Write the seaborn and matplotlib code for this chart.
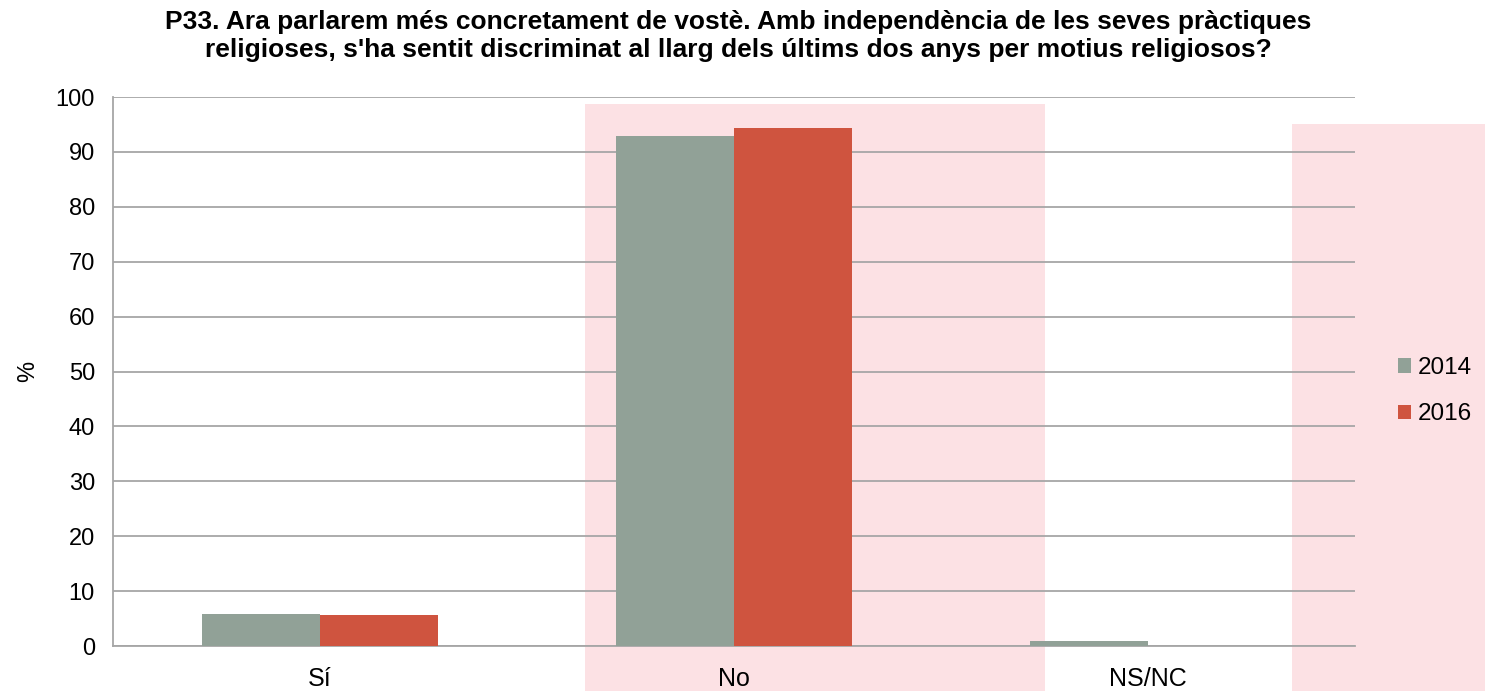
import numpy as np
import pandas as pd
import matplotlib
matplotlib.use("Agg")
import matplotlib.pyplot as plt
import seaborn as sns
from matplotlib.patches import Rectangle

#Data.
categories = ["Sí", "No", "NS/NC"]
years = ["2014", "2016"]
values_2014 = [5.8, 92.9, 1.0]
values_2016 = [5.6, 94.3, 0.0]
yticks = list(range(0, 101, 10))

colors = {"2014": "#91a197", "2016": "#cf543f"}
grid_color = "#a6a6a6"

df = pd.DataFrame({
    "categoria": categories * 2,
    "any": ["2014"] * 3 + ["2016"] * 3,
    "valor": values_2014 + values_2016,
})

sns.set_style("white")
plt.rcParams["font.family"] = ["Liberation Sans", "DejaVu Sans"]
plt.rcParams["text.color"] = "black"
plt.rcParams["xtick.color"] = "black"
plt.rcParams["ytick.color"] = "black"
plt.rcParams["axes.labelcolor"] = "black"

fig = plt.figure(figsize=(14.85, 6.91), dpi=100)

#Faint pink watermark bands behind the chart.
bg = fig.add_axes([0, 0, 1, 1], zorder=-1)
bg.set_xlim(0, 1)
bg.set_ylim(0, 1)
bg.axis("off")
for x0, y0, w, h in [(0.394, 0.0, 0.31, 0.85), (0.87, 0.0, 0.13, 0.82)]:
    bg.add_patch(Rectangle((x0, y0), w, h, facecolor="#fce1e4", edgecolor="none"))

ax = fig.add_axes([0.0761, 0.065, 0.8364, 0.7946], zorder=1)
ax.set_facecolor("none")

sns.barplot(data=df, x="categoria", y="valor", hue="any", order=categories,
            hue_order=years, palette=colors, width=0.57, saturation=1,
            linewidth=0, ax=ax, zorder=3)

ax.set_ylim(0, 100)
ax.set_xlim(-0.5, 2.5)
ax.set_yticks(yticks)
ax.yaxis.grid(True, color=grid_color, linewidth=1.3, zorder=0)
ax.set_axisbelow(True)

#Category boundary ticks on the x axis.
ax.set_xticks([0, 1, 2])
ax.set_xticklabels(categories)
ax.set_xticks([-0.5, 0.5, 1.5, 2.5], minor=True)
ax.tick_params(axis="x", which="major", length=0, labelsize=18, pad=15)
ax.tick_params(axis="x", which="minor", length=7, width=1.3, color=grid_color)
ax.tick_params(axis="y", length=7, width=1.3, color=grid_color, labelsize=17, pad=6)

for side in ["top", "right"]:
    ax.spines[side].set_visible(False)
for side in ["left", "bottom"]:
    ax.spines[side].set_color(grid_color)
    ax.spines[side].set_linewidth(1.3)

ax.set_xlabel("")
ax.set_ylabel("%", fontsize=17, labelpad=12)

ax.legend(loc="center left", bbox_to_anchor=(1.017, 0.464), frameon=False,
          fontsize=17.5, handlelength=0.55, handleheight=0.55, handletextpad=0.25,
          labelspacing=1.0)

fig.suptitle("P33. Ara parlarem més concretament de vostè. Amb independència de les seves pràctiques\n"
             "religioses, s'ha sentit discriminat al llarg dels últims dos anys per motius religiosos?",
             x=0.497, y=0.985, fontsize=19, fontweight="bold", linespacing=1.2)

fig.savefig("out.png", dpi=100)
